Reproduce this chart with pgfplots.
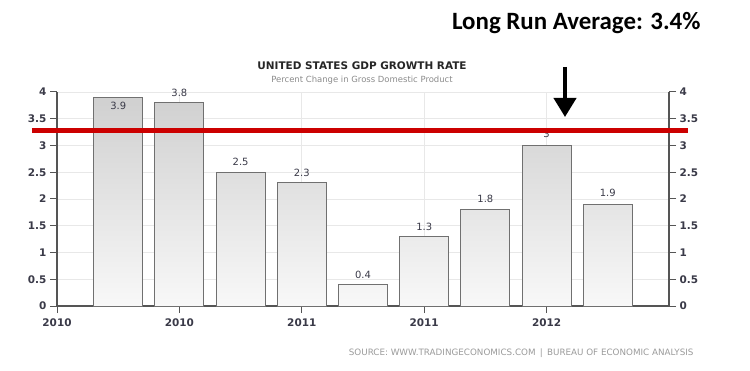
\documentclass[border=0pt]{standalone}
\usepackage{pgfplots}
\pgfplotsset{compat=1.18}
\usepackage{pgfplotstable}
\usepackage{fontspec}
\usetikzlibrary{arrows.meta}
\newfontfamily\chartfont{DejaVu Sans}
\newfontfamily\callfont{Carlito}
\definecolor{tickc}{HTML}{3A3A48}
\definecolor{gridc}{HTML}{E8E8E8}
\definecolor{axc}{HTML}{555555}
\definecolor{barline}{HTML}{707070}
\definecolor{bartop}{HTML}{D0D0D0}
\definecolor{barbot}{HTML}{F8F8F8}
\definecolor{avgred}{HTML}{CC0000}
\definecolor{subc}{HTML}{8A8A8A}
\definecolor{srcc}{HTML}{9A9A9A}

\pgfplotstableread{
x y off
1 3.9 -9
2 3.8 10
3 2.5 10
4 2.3 10
5 0.4 10
6 1.3 10
7 1.8 11
8 3.0 12
9 1.9 11
}\gdp

\pgfplotsset{
  common/.style={
    scale only axis, width=612bp, height=214bp,
    xmin=0, xmax=10, ymin=0, ymax=4,
    ytick={0,0.5,1,1.5,2,2.5,3,3.5,4},
    yticklabels={0,0.5,1,1.5,2,2.5,3,3.5,4},
    tick align=outside, major tick length=7bp,
    tick style={axc, line width=1bp},
    axis line style={axc, line width=1.2bp, -},
    tick label style={text=tickc, font=\chartfont\bfseries\fontsize{10.5}{11}\selectfont},
    /pgf/number format/assume math mode=true,
    clip=false,
  }
}

\begin{document}
\begin{tikzpicture}
\useasboundingbox (-57bp,-65bp) rectangle (693bp,306bp);
\begin{axis}[common,
  axis x line*=bottom, axis y line*=left,
  xtick={0,2,4,6,8}, xticklabels={2010,2010,2011,2011,2012},
  xticklabel style={yshift=-2.5bp},
  grid=major, major grid style={gridc, line width=0.8bp},
]
\addplot[ybar, bar width=49bp, bar shift=0pt, draw=barline, line width=0.9bp,
  top color=bartop, bottom color=barbot,
  nodes near coords,
  visualization depends on={\thisrow{off} \as \labeloff},
  nodes near coords style={anchor=center, yshift=\labeloff bp,
    font=\chartfont\fontsize{10}{11}\selectfont, text=tickc,
    /pgf/number format/assume math mode=true}]
  table[x=x, y=y] {\gdp};
\end{axis}
\begin{axis}[common,
  axis y line*=right, axis x line=none,
]
\addplot[avgred, line width=5bp, no markers] coordinates {(-0.41,3.28) (10.31,3.28)};
\end{axis}
\draw[line width=4bp, -{Triangle[width=22bp,length=19bp]}] (508bp,239bp) -- (508bp,189bp);
\node[font=\callfont\bfseries\fontsize{25}{28}\selectfont, anchor=east] at (647bp,283bp) {Long Run Average: 3.4\%};
\node[font=\chartfont\bfseries\fontsize{10.5}{12}\selectfont, text=black!85] at (305bp,240bp) {UNITED STATES GDP GROWTH RATE};
\node[font=\chartfont\fontsize{8.5}{10}\selectfont, text=subc] at (305bp,226bp) {Percent Change in Gross Domestic Product};
\node[font=\chartfont\fontsize{8.8}{10}\selectfont, text=srcc, anchor=east] at (640bp,-47bp) {SOURCE: WWW.TRADINGECONOMICS.COM \,|\, BUREAU OF ECONOMIC ANALYSIS};
\end{tikzpicture}
\end{document}
